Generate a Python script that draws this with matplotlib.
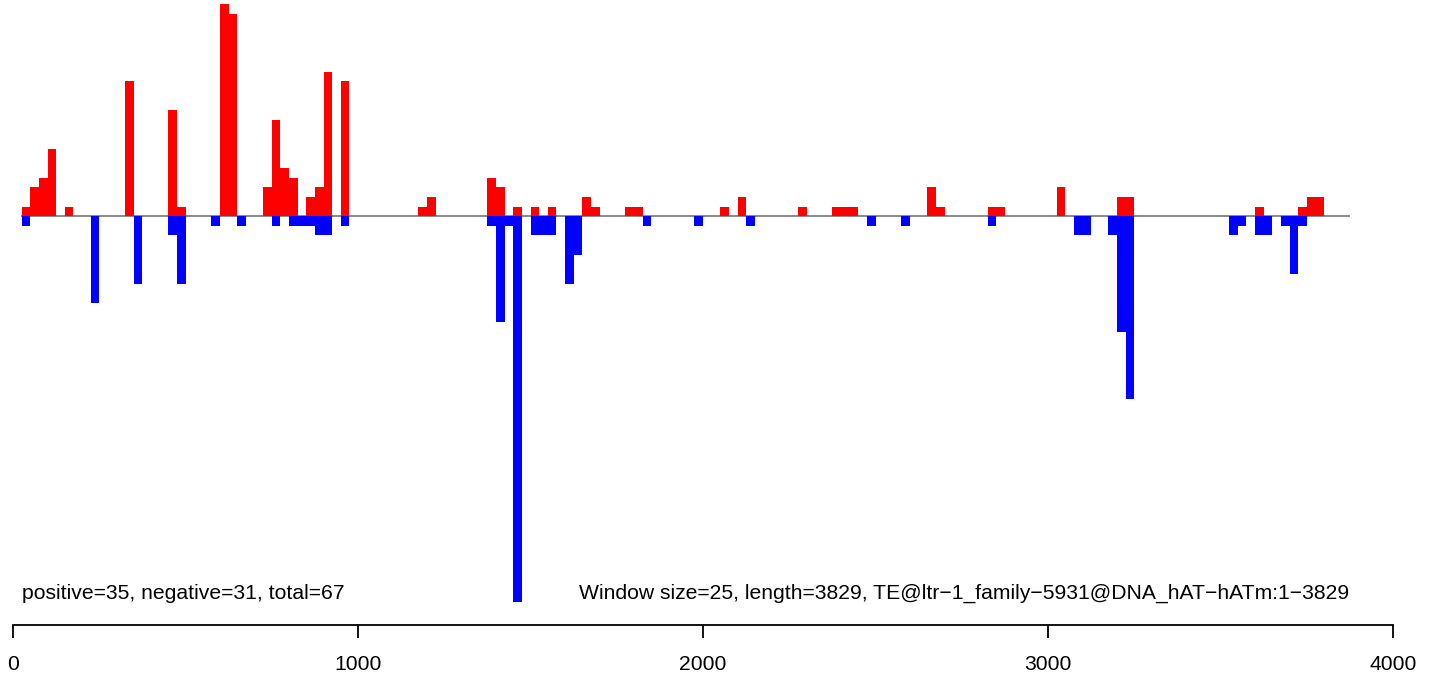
import matplotlib
matplotlib.use("Agg")
import matplotlib.pyplot as plt

plt.rcParams['font.family'] = ['Liberation Sans', 'DejaVu Sans']

window = 25
seq_length = 3829

# window index -> value (positive strand counts)
pos_windows = [1, 2, 3, 4, 6, 13, 18, 19, 24, 25, 29, 30, 31, 32, 34, 35, 36, 38,
               47, 48, 55, 56, 58, 60, 62, 66, 67, 71, 72, 82, 84, 91, 95, 96, 97,
               106, 107, 113, 114, 121, 128, 129, 144, 149, 150, 151]
pos_values = [1, 3, 4, 7, 1, 14, 11, 1, 22, 21, 3, 10, 5, 4, 2, 3, 15, 14,
              1, 2, 4, 3, 1, 1, 1, 2, 1, 1, 1, 1, 2, 1, 1, 1, 1,
              3, 1, 1, 1, 3, 2, 2, 1, 1, 2, 2]

neg_windows = [1, 9, 14, 18, 19, 23, 26, 30, 32, 33, 34, 35, 36, 38,
               55, 56, 57, 58, 60, 61, 62, 64, 65, 73, 79, 85, 99, 103, 113,
               123, 124, 127, 128, 129, 141, 142, 144, 145, 147, 148, 149]
neg_values = [-1, -9, -7, -2, -7, -1, -1, -1, -1, -1, -1, -2, -2, -1,
              -1, -11, -1, -40, -2, -2, -2, -7, -4, -1, -1, -1, -1, -1, -1,
              -2, -2, -2, -12, -19, -2, -1, -2, -2, -1, -6, -1]

x_ticks = [0, 1000, 2000, 3000, 4000]
left_label = "positive=35, negative=31, total=67"
right_label = "Window size=25, length=3829, TE@ltr\u22121_family\u22125931@DNA_hAT\u2212hATm:1\u22123829"

W, H = 1430, 676
fig = plt.figure(figsize=(W / 100, H / 100), dpi=100)
x0_px, x1_px = 12.7, 1392.7
ytop_px, ybot_px = 4, 602
ax = fig.add_axes([x0_px / W, 1 - ybot_px / H, (x1_px - x0_px) / W, (ybot_px - ytop_px) / H])
ax.set_xlim(0, 4000)
ax.set_ylim(-40, 22)

ax.plot([25, 3875], [0, 0], color='#808080', lw=1.3, zorder=1, solid_capstyle='butt')

ax.bar([w * window + 1 for w in pos_windows], pos_values, width=window, align='edge',
       color='#FF0000', linewidth=0, zorder=2)
ax.bar([w * window + 1 for w in neg_windows], neg_values, width=window, align='edge',
       color='#0000FF', linewidth=0, zorder=2)

fs = 15.2
ax.text(28, -39.1, left_label, ha='left', va='center', fontsize=fs)
ax.text(3875, -39.1, right_label, ha='right', va='center', fontsize=fs)

for s in ['top', 'right', 'left']:
    ax.spines[s].set_visible(False)
ax.spines['bottom'].set_position(('outward', 23 * 0.72))
ax.spines['bottom'].set_linewidth(1.3)
ax.set_yticks([])
ax.set_xticks(x_ticks)
ax.set_xticklabels([str(t) for t in x_ticks])
ax.tick_params(axis='x', direction='out', length=13 * 0.72, width=1.3, labelsize=fs, pad=12)

fig.savefig('out.png', dpi=100)
